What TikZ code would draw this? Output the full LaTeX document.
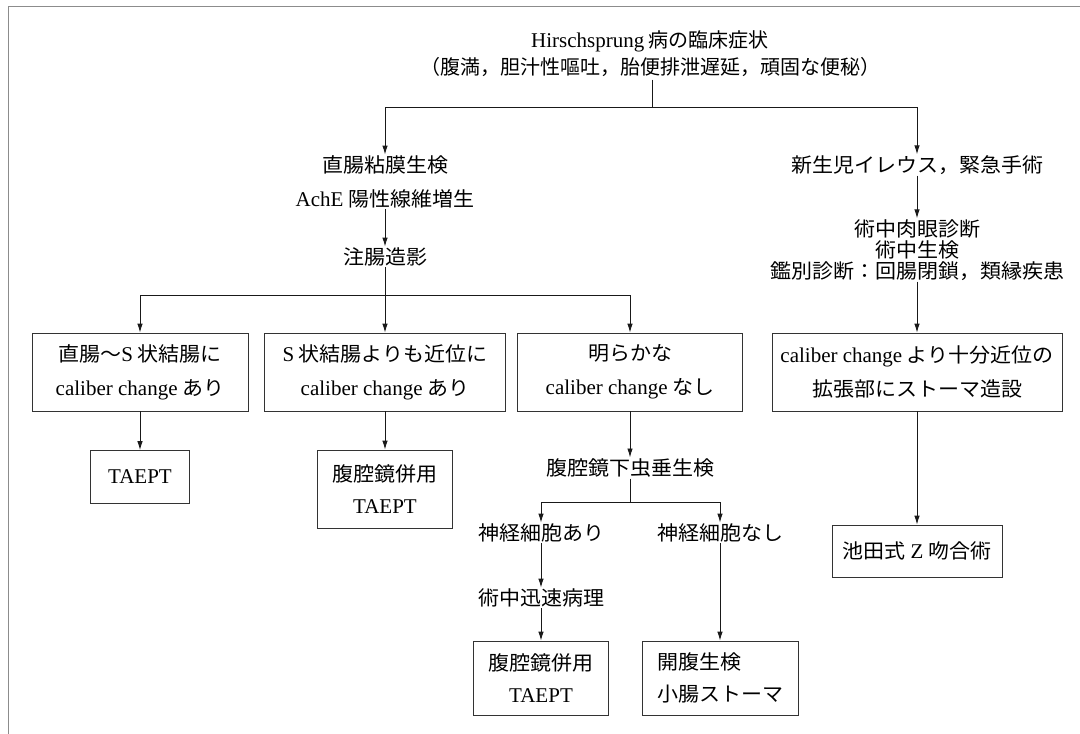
\documentclass[tikz,border=0pt]{standalone}
\usepackage{fontspec}
\setmainfont[FakeStretch=1.05]{Noto Sans CJK JP}
\newfontfamily\titlefont{Noto Sans CJK JP}
\newfontfamily\latf[Scale=1.05]{Liberation Serif}
\newcommand\lt[1]{{\latf #1}}
\newcommand\fsz[1]{\fontsize{20}{#1}\selectfont\lineskiplimit=-50pt\relax}
\usetikzlibrary{arrows.meta}
\begin{document}
\begin{tikzpicture}[x=1pt,y=-1pt,
  lh/.style={font={\fsz{#1}}},
  txt/.style={align=center, inner sep=1pt, lh=24},
  box/.style={txt, draw=black!80, line width=0.8pt, inner sep=0pt},
  arr/.style={-{Latex[length=9pt,width=5.5pt]}, line width=0.9pt, draw=black!90},
  ln/.style={line width=0.9pt, draw=black!90},
  frame/.style={line width=1pt, draw=black!45}]
\useasboundingbox (0,0) rectangle (1080,734);
\draw[frame] (8,734) -- (8,6) -- (1080,6);

\node[txt, font={\fsz{27}\titlefont}] (title) at (650,53.5) {\lt{Hirschsprung} 病の臨床症状\\（腹満，胆汁性嘔吐，胎便排泄遅延，頑固な便秘）};
\coordinate (j1) at (652,107);
\draw[ln, shorten <=2pt] (title.south -| j1) -- (j1);

\node[txt, lh=34] (biopsy) at (385,182) {直腸粘膜生検\\\lt{AchE} 陽性線維増生};
\node[txt] (ileus) at (917,165) {新生児イレウス，緊急手術};
\draw[arr] (j1) -| (biopsy.north);
\draw[arr] (j1) -| (ileus.north);

\node[txt] (enema) at (385,257) {注腸造影};
\draw[arr] (biopsy) -- (enema);
\coordinate (j2) at (385,295);
\draw[ln] (enema) -- (j2);

\node[box, minimum width=216, minimum height=78, lh=34] (b1) at (140,372) {直腸～\lt{S} 状結腸に\\\lt{caliber change} あり};
\node[box, minimum width=241, minimum height=78, lh=34] (b2) at (385,372) {\lt{S} 状結腸よりも近位に\\\lt{caliber change} あり};
\node[box, minimum width=225, minimum height=78, lh=34] (b3) at (630,372) {明らかな\\\lt{caliber change} なし};
\node[box, minimum width=290, minimum height=78, lh=34] (b4) at (917,372) {\lt{caliber change} より十分近位の\\拡張部にストーマ造設};
\draw[arr] (j2) -| (b1.north);
\draw[arr] (j2) -- (b2.north);
\draw[arr] (j2) -| (b3.north);

\node[txt, lh=21] (intra) at (917,250) {術中肉眼診断\\術中生検\\鑑別診断：回腸閉鎖，類縁疾患};
\draw[arr] (ileus) -- (intra);
\draw[arr] (intra) -- (b4);

\node[box, minimum width=99, minimum height=53] (t1) at (140,477) {\lt{TAEPT}};
\draw[arr] (b1) -- (t1);
\node[box, minimum width=135, minimum height=78, lh=32] (t2) at (385,489) {腹腔鏡併用\\\lt{TAEPT}};
\draw[arr] (b2) -- (t2);

\node[txt] (appx) at (630,468) {腹腔鏡下虫垂生検};
\draw[arr] (b3) -- (appx);
\coordinate (j3) at (630,502);
\draw[ln] (appx) -- (j3);
\node[txt] (nc1) at (541,533) {神経細胞あり};
\node[txt] (nc0) at (720,533) {神経細胞なし};
\draw[arr] (j3) -| (nc1.north);
\draw[arr] (j3) -| (nc0.north);
\node[txt] (path) at (541,598) {術中迅速病理};
\draw[arr] (nc1) -- (path);
\node[box, minimum width=135, minimum height=74, lh=32] (t3) at (541,678) {腹腔鏡併用\\\lt{TAEPT}};
\draw[arr] (path) -- (t3);
\node[box, minimum width=156, minimum height=74, lh=32, align=left] (st) at (720,678) {開腹生検\\小腸ストーマ};
\draw[arr] (nc0) -- (st);

\node[box, minimum width=170, minimum height=52] (z) at (917,551) {池田式 \lt{Z} 吻合術};
\draw[arr] (b4) -- (z);
\end{tikzpicture}
\end{document}
